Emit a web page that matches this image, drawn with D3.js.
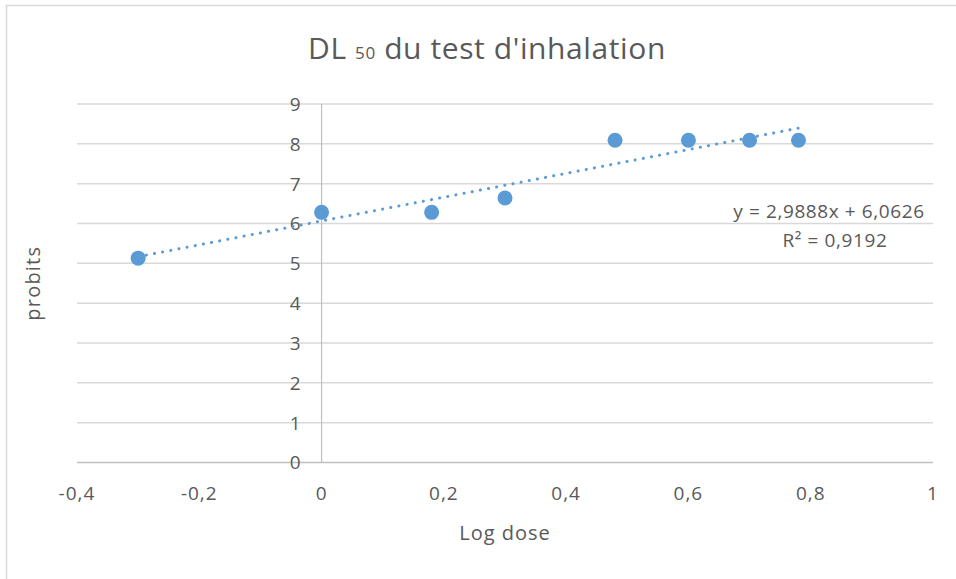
<!DOCTYPE html>
<html>
<head>
<meta charset="utf-8">
<script src="https://cdn.jsdelivr.net/npm/d3@7"></script>
<style>
  body { margin: 0; background: #fff; }
  text { font-family: "Open Sans", sans-serif; fill: #595959; }
</style>
</head>
<body>
<svg width="956" height="579"></svg>
<script>
const logDose = [-0.3, 0, 0.18, 0.3, 0.48, 0.6, 0.7, 0.78];
const probits = [5.13, 6.28, 6.28, 6.64, 8.09, 8.09, 8.09, 8.09];
const xTicks = [-0.4, -0.2, 0, 0.2, 0.4, 0.6, 0.8, 1];
const yTicks = [0, 1, 2, 3, 4, 5, 6, 7, 8, 9];
const equationLabel = 'y = 2,9888x + 6,0626';
const r2Label = 'R² = 0,9192';

const svg = d3.select('svg');

const x = d3.scaleLinear().domain([-0.4, 1]).range([77, 933]);
const y = d3.scaleLinear().domain([0, 9]).range([462.5, 104]);
const fmt = d => String(d).replace('.', ',');

// chart frame (only top and left visible in the crop)
svg.append('path')
    .attr('d', 'M6.5,579 V5.5 H956')
    .attr('fill', 'none')
    .attr('stroke', '#d9d9d9')
    .attr('stroke-width', 1.5);

// title
const title = svg.append('text')
    .attr('x', 487)
    .attr('y', 59)
    .attr('text-anchor', 'middle')
    .style('font-size', '30px')
    .style('letter-spacing', '0.6px');
title.append('tspan').text('DL ');
title.append('tspan').style('font-size', '17px').text('50');
title.append('tspan').text(' du test d\'inhalation');

// horizontal gridlines
svg.append('g')
    .selectAll('line')
    .data(yTicks.filter(d => d !== 0))
    .join('line')
    .attr('x1', x(-0.4))
    .attr('x2', x(1))
    .attr('y1', d => y(d))
    .attr('y2', d => y(d))
    .attr('stroke', '#d9d9d9')
    .attr('stroke-width', 1.5);

// axes lines through zero
svg.append('line')
    .attr('x1', x(-0.4)).attr('x2', x(1))
    .attr('y1', y(0)).attr('y2', y(0))
    .attr('stroke', '#bfbfbf').attr('stroke-width', 1.5);
svg.append('line')
    .attr('x1', x(0)).attr('x2', x(0))
    .attr('y1', y(0)).attr('y2', y(9))
    .attr('stroke', '#bfbfbf').attr('stroke-width', 1.2);

// y tick labels, left of the vertical axis
svg.append('g')
    .selectAll('text')
    .data(yTicks)
    .join('text')
    .attr('x', x(0) - 21)
    .attr('y', d => y(d))
    .attr('dy', '0.36em')
    .attr('text-anchor', 'end')
    .style('font-size', '19px')
    .text(d => d);

// x tick labels below plot
svg.append('g')
    .selectAll('text')
    .data(xTicks)
    .join('text')
    .attr('x', d => x(d))
    .attr('y', 493)
    .attr('dy', '0.36em')
    .attr('text-anchor', 'middle')
    .style('font-size', '19px')
    .style('letter-spacing', '1px')
    .text(fmt);

// axis titles
svg.append('text')
    .attr('x', x(0.3))
    .attr('y', 533)
    .attr('dy', '0.36em')
    .attr('text-anchor', 'middle')
    .style('font-size', '20px')
    .style('letter-spacing', '1px')
    .text('Log dose');

svg.append('text')
    .attr('transform', `translate(33, ${y(4.5)}) rotate(-90)`)
    .attr('dy', '0.36em')
    .attr('text-anchor', 'middle')
    .style('font-size', '20px')
    .style('letter-spacing', '1.2px')
    .text('probits');

// linear trendline from least squares
const mx = d3.mean(logDose);
const my = d3.mean(probits);
const slope = d3.sum(logDose, (d, i) => (d - mx) * (probits[i] - my)) /
    d3.sum(logDose, d => (d - mx) ** 2);
const intercept = my - slope * mx;
const xExt = d3.extent(logDose);

svg.append('path')
    .datum(xExt)
    .attr('d', d3.line()
        .x(d => x(d))
        .y(d => y(intercept + slope * d)))
    .attr('fill', 'none')
    .attr('stroke', '#5b9bd5')
    .attr('stroke-width', 3)
    .attr('stroke-linecap', 'round')
    .attr('stroke-dasharray', '0.1 8.2');

// points
svg.append('g')
    .selectAll('circle')
    .data(logDose)
    .join('circle')
    .attr('cx', d => x(d))
    .attr('cy', (d, i) => y(probits[i]))
    .attr('r', 7.5)
    .attr('fill', '#5b9bd5');

// trendline label
svg.append('text')
    .attr('x', 829)
    .attr('y', 211)
    .attr('dy', '0.36em')
    .attr('text-anchor', 'middle')
    .style('font-size', '19px')
    .style('letter-spacing', '0.6px')
    .text(equationLabel);
svg.append('text')
    .attr('x', 835)
    .attr('y', 240)
    .attr('dy', '0.36em')
    .attr('text-anchor', 'middle')
    .style('font-size', '19px')
    .style('letter-spacing', '0.6px')
    .text(r2Label);
</script>
</body>
</html>
